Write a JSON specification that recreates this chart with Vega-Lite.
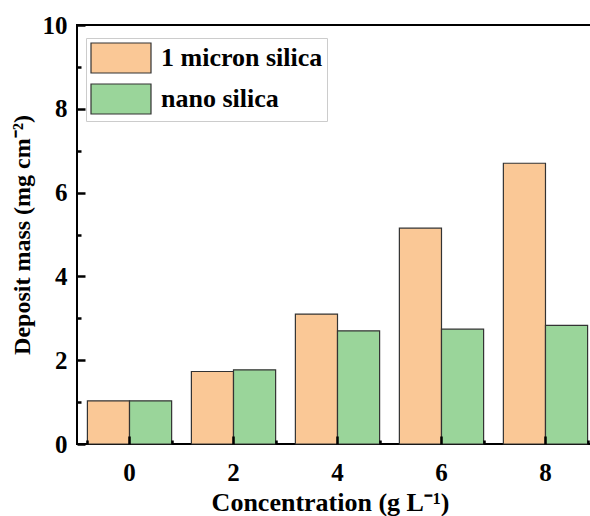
{
  "$schema": "https://vega.github.io/schema/vega-lite/v6.json",
  "width": 521,
  "height": 419,
  "autosize": {"type": "none"},
  "padding": {"left": 77, "top": 25, "right": 0, "bottom": 72},
  "background": "white",
  "config": {
    "font": "Liberation Serif",
    "view": {"stroke": "black", "strokeWidth": 2},
    "axis": {"grid": false,
      "labelFont": "Liberation Serif", "labelFontWeight": "bold", "labelFontSize": 25, "labelColor": "black",
      "titleFont": "Liberation Serif", "titleFontWeight": "bold", "titleFontSize": 24, "titleColor": "black"}
  },
  "data": {"values": [
    {"conc": 0, "type": "1 micron silica", "mass": 1.03},
    {"conc": 0, "type": "nano silica", "mass": 1.03},
    {"conc": 2, "type": "1 micron silica", "mass": 1.73},
    {"conc": 2, "type": "nano silica", "mass": 1.77},
    {"conc": 4, "type": "1 micron silica", "mass": 3.10},
    {"conc": 4, "type": "nano silica", "mass": 2.70},
    {"conc": 6, "type": "1 micron silica", "mass": 5.15},
    {"conc": 6, "type": "nano silica", "mass": 2.74},
    {"conc": 8, "type": "1 micron silica", "mass": 6.70},
    {"conc": 8, "type": "nano silica", "mass": 2.83}
  ]},
  "encoding": {
    "x": {"field": "conc", "type": "ordinal", "sort": "ascending",
      "scale": {"paddingInner": 0.19, "paddingOuter": 0.1}},
    "xOffset": {"field": "type", "type": "nominal", "scale": {"paddingInner": 0, "paddingOuter": 0}},
    "y": {"field": "mass", "type": "quantitative",
      "scale": {"domain": [0, 10], "nice": false, "zero": true}}
  },
  "layer": [
    {
      "mark": {"type": "bar", "stroke": "#333333", "strokeWidth": 1.2},
      "encoding": {
        "x": {"field": "conc", "type": "ordinal", "sort": "ascending",
          "axis": {"orient": "bottom", "title": "Concentration (g L⁻¹)", "labelAngle": 0, "offset": -8, "tickSize": 8,
            "ticks": true, "tickColor": "black", "tickWidth": 2.5, "domain": false, "zindex": 1,
            "labelPadding": 16, "titlePadding": 4, "titleFontSize": 26, "titleX": 253, "titleAnchor": "middle"}},
        "y": {"field": "mass", "type": "quantitative",
          "axis": {"orient": "left", "title": "Deposit mass (mg cm⁻²)", "values": [0,2,4,6,8,10], "offset": -8, "tickSize": 8,
            "ticks": true, "tickColor": "black", "tickWidth": 2.5, "domain": false, "zindex": 1,
            "labelPadding": 10, "titlePadding": 8}},
        "color": {"field": "type", "type": "nominal",
          "scale": {"domain": ["1 micron silica", "nano silica"], "range": ["#FAC896", "#9AD59A"]},
          "legend": {"title": null, "orient": "none", "legendX": 9, "legendY": 13,
            "symbolType": "M-1,-1H3V1H-1Z", "symbolSize": 900, "symbolStrokeColor": "#333333", "symbolStrokeWidth": 1.2,
            "symbolOpacity": 1, "labelOffset": 39, "rowPadding": 5, "padding": 4,
            "strokeColor": "#cccccc", "fillColor": "white",
            "labelFont": "Liberation Serif", "labelFontWeight": "bold", "labelFontSize": 26, "labelColor": "black", "labelLimit": 300}}
      }
    },
    {
      "mark": {"type": "bar", "opacity": 0},
      "encoding": {
        "x": {"field": "conc", "type": "ordinal", "sort": "ascending",
          "axis": {"orient": "bottom", "title": null, "labels": false, "tickBand": "extent", "tickOffset": 10, "offset": -4, "tickSize": 4,
            "ticks": true, "tickColor": "black", "tickWidth": 2.5, "domain": false, "zindex": 1}},
        "y": {"field": "mass", "type": "quantitative",
          "axis": {"orient": "left", "title": null, "labels": false, "values": [1,3,5,7,9], "offset": -4, "tickSize": 4,
            "ticks": true, "tickColor": "black", "tickWidth": 2.5, "domain": false, "zindex": 1}}
      }
    }
  ],
  "resolve": {"axis": {"x": "independent", "y": "independent"}}
}
